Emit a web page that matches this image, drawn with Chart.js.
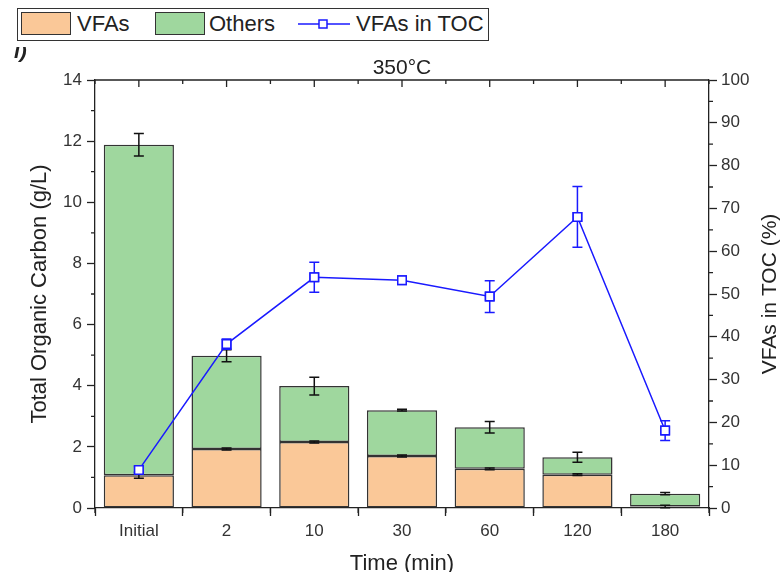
<!DOCTYPE html>
<html>
<head>
<meta charset="utf-8">
<script src="https://cdn.jsdelivr.net/npm/chart.js@4"></script>
<style>
  html, body { margin: 0; padding: 0; background: #fff; }
  #wrap { position: relative; width: 782px; height: 572px; font-family: "Liberation Sans", Arial, sans-serif; }
  #graphId { position: absolute; left: 0; top: 0; }
  .legend { position: absolute; left: 17px; top: 8px; width: 470px; height: 31px; border: 1.5px solid #333; background: #fff; color: #222; font-size: 22px; }
  .legend span { position: absolute; top: 2px; line-height: 26px; }
  .swatch { position: absolute; top: 3px; width: 50px; height: 23px; border: 1.5px solid #333; box-sizing: border-box; }
  .panel { position: absolute; left: 14px; top: 47px; width: 30px; height: 16px; overflow: hidden; }
  .panel span { position: absolute; top: -8px; left: 0; font-size: 21px; font-weight: bold; font-style: italic; color: #222; }
  .title { position: absolute; left: 0; width: 804px; top: 54px; text-align: center; font-size: 21px; line-height: 26px; color: #222; }
</style>
</head>
<body>
<div id="wrap">
  <canvas id="graphId" width="782" height="572"></canvas>
  <div class="panel"><span>i)</span></div>
  <div class="title">350°C</div>
  <div class="legend">
    <div class="swatch" style="left:3px;background:#fac898"></div>
    <span style="left:59px">VFAs</span>
    <div class="swatch" style="left:137px;background:#9fd79e"></div>
    <span style="left:191px">Others</span>
    <svg style="position:absolute;left:280px;top:5px" width="52" height="20">
      <line x1="0" y1="10" x2="52" y2="10" stroke="#1a1aff" stroke-width="1.5"/>
      <rect x="21" y="6" width="8" height="8" fill="#fff" stroke="#1a1aff" stroke-width="1.5"/>
    </svg>
    <span style="left:338px">VFAs in TOC</span>
  </div>
</div>
<script>
var times = ['Initial', '2', '10', '30', '60', '120', '180'];

// organic carbon split (g/L)
var vfas = [1.07, 1.93, 2.16, 1.70, 1.28, 1.09, 0.05];
var others = [10.81, 3.05, 1.83, 1.50, 1.36, 0.57, 0.42];
var vfasErr = [0.10, 0.03, 0.03, 0.03, 0.03, 0.03, 0.04];
var totalErr = [0.37, 0.20, 0.29, 0.03, 0.19, 0.16, 0.04];

// share of VFAs in TOC (%)
var vfaShare = [8.9, 38.3, 53.9, 53.2, 49.4, 68.0, 18.1];
var vfaShareErr = [0.8, 1.2, 3.5, 0.5, 3.7, 7.1, 2.3];

var axisColor = '#222';
var textColor = '#333';
var fontFamily = '"Liberation Sans", Arial, sans-serif';

function drawErr(ctx, x, yTop, yBot, half, color) {
    ctx.save();
    ctx.strokeStyle = color;
    ctx.lineWidth = 1.5;
    ctx.beginPath();
    ctx.moveTo(x, yTop); ctx.lineTo(x, yBot);
    ctx.moveTo(x - half, yTop); ctx.lineTo(x + half, yTop);
    ctx.moveTo(x - half, yBot); ctx.lineTo(x + half, yBot);
    ctx.stroke();
    ctx.restore();
}

var errorBars = {
    id: 'errorBars',
    afterDatasetDraw: function(chart, args) {
        // bar error bars go under the line
        if (args.index !== 1) return;
        var ctx = chart.ctx, x = chart.scales.x, y = chart.scales.y;
        for (var i = 0; i < times.length; i++) {
            var cx = x.getPixelForValue(i);
            var tot = vfas[i] + others[i];
            drawErr(ctx, cx, y.getPixelForValue(tot + totalErr[i]), y.getPixelForValue(tot - totalErr[i]), 5, '#111');
            drawErr(ctx, cx, y.getPixelForValue(vfas[i] + vfasErr[i]), y.getPixelForValue(vfas[i] - vfasErr[i]), 5, '#111');
        }
    },
    afterDatasetsDraw: function(chart) {
        var ctx = chart.ctx, x = chart.scales.x, y1 = chart.scales.y1;
        for (var i = 0; i < times.length; i++) {
            var cx = x.getPixelForValue(i);
            drawErr(ctx, cx, y1.getPixelForValue(vfaShare[i] + vfaShareErr[i]), y1.getPixelForValue(vfaShare[i] - vfaShareErr[i]), 5, '#1a1aff');
        }
        // redraw markers above their error bars
        var meta = chart.getDatasetMeta(0);
        meta.data.forEach(function(p) { p.draw(ctx, chart.chartArea); });
    },
    afterDraw: function(chart) {
        var ctx = chart.ctx, a = chart.chartArea;
        var x = chart.scales.x, y = chart.scales.y, y1 = chart.scales.y1;
        ctx.save();
        ctx.strokeStyle = axisColor;
        ctx.lineWidth = 1.3;
        ctx.beginPath();
        // top frame line
        ctx.moveTo(a.left, a.top); ctx.lineTo(a.right, a.top);
        // top ticks point inward
        for (var i = 0; i < times.length; i++) {
            var cx = x.getPixelForValue(i);
            ctx.moveTo(cx, a.top); ctx.lineTo(cx, a.top + 7);
        }
        var step = (a.right - a.left) / times.length;
        for (var j = 0; j <= times.length; j++) {
            var bx = a.left + j * step;
            ctx.moveTo(bx, a.top); ctx.lineTo(bx, a.top + 4);
            ctx.moveTo(bx, a.bottom); ctx.lineTo(bx, a.bottom + 5);
        }
        // minor ticks on the value axes
        for (var v = 1; v < 14; v += 2) {
            var py = y.getPixelForValue(v);
            ctx.moveTo(a.left, py); ctx.lineTo(a.left - 4, py);
        }
        for (var p = 5; p < 100; p += 10) {
            var qy = y1.getPixelForValue(p);
            ctx.moveTo(a.right, qy); ctx.lineTo(a.right + 4, qy);
        }
        ctx.stroke();

        // right axis title reads bottom to top
        ctx.translate(770, (a.top + a.bottom) / 2);
        ctx.rotate(-Math.PI / 2);
        ctx.fillStyle = '#222';
        ctx.font = '21px ' + fontFamily;
        ctx.textAlign = 'center';
        ctx.textBaseline = 'middle';
        ctx.fillText('VFAs in TOC (%)', 0, 0);
        ctx.restore();
    }
};

function fixBox(w, h) {
    return function(s) {
        if (w) s.width = w;
        if (h) s.height = h;
        s.paddingTop = 0; s.paddingBottom = 0;
        s.paddingLeft = 0; s.paddingRight = 0;
    };
}

var ctx = document.getElementById('graphId').getContext('2d');
var myChart = new Chart(ctx, {
    type: 'bar',
    data: {
        labels: times,
        datasets: [{
            type: 'line',
            label: 'VFAs in TOC',
            data: vfaShare,
            yAxisID: 'y1',
            borderColor: '#1a1aff',
            borderWidth: 1.5,
            pointStyle: 'rect',
            pointRadius: 6,
            pointBorderWidth: 1.5,
            pointBackgroundColor: '#fff',
            pointBorderColor: '#1a1aff',
            tension: 0
        }, {
            label: 'VFAs',
            data: vfas,
            backgroundColor: '#fac898',
            borderColor: '#333',
            borderWidth: 1.5,
            borderSkipped: false,
            stack: 'toc'
        }, {
            label: 'Others',
            data: others,
            backgroundColor: '#9fd79e',
            borderColor: '#333',
            borderWidth: 1.5,
            borderSkipped: false,
            stack: 'toc'
        }]
    },
    options: {
        responsive: false,
        animation: false,
        layout: { padding: { top: 80, left: 0, right: 0, bottom: 0 } },
        datasets: { bar: { categoryPercentage: 0.8, barPercentage: 1 } },
        plugins: { legend: { display: false }, tooltip: { enabled: false } },
        scales: {
            x: {
                stacked: true,
                offset: true,
                afterFit: fixBox(0, 64),
                grid: { display: true, drawOnChartArea: false, tickLength: 8, tickColor: axisColor, tickWidth: 1.3 },
                border: { display: true, color: axisColor, width: 1.3 },
                ticks: { color: textColor, padding: 5, maxRotation: 0, font: { family: fontFamily, size: 17 } },
                title: { display: true, text: 'Time (min)', color: '#222', padding: { top: 0, bottom: 0 }, font: { family: fontFamily, size: 22, lineHeight: 0.75 } }
            },
            y: {
                stacked: true,
                position: 'left',
                min: 0, max: 14,
                afterFit: fixBox(95, 0),
                grid: { display: true, drawOnChartArea: false, tickLength: 8, tickColor: axisColor, tickWidth: 1.3 },
                border: { display: true, color: axisColor, width: 1.3 },
                ticks: { stepSize: 2, color: textColor, padding: 5, font: { family: fontFamily, size: 17 } },
                title: { display: true, text: 'Total Organic Carbon (g/L)', color: '#222', padding: { top: 27, bottom: 0 }, font: { family: fontFamily, size: 22, lineHeight: 1.2 } }
            },
            y1: {
                position: 'right',
                min: 0, max: 100,
                afterFit: fixBox(73, 0),
                grid: { display: true, drawOnChartArea: false, tickLength: 8, tickColor: axisColor, tickWidth: 1.3 },
                border: { display: true, color: axisColor, width: 1.3 },
                ticks: { stepSize: 10, color: textColor, padding: 4, font: { family: fontFamily, size: 17 } }
            }
        }
    },
    plugins: [errorBars]
});
</script>
</body>
</html>
